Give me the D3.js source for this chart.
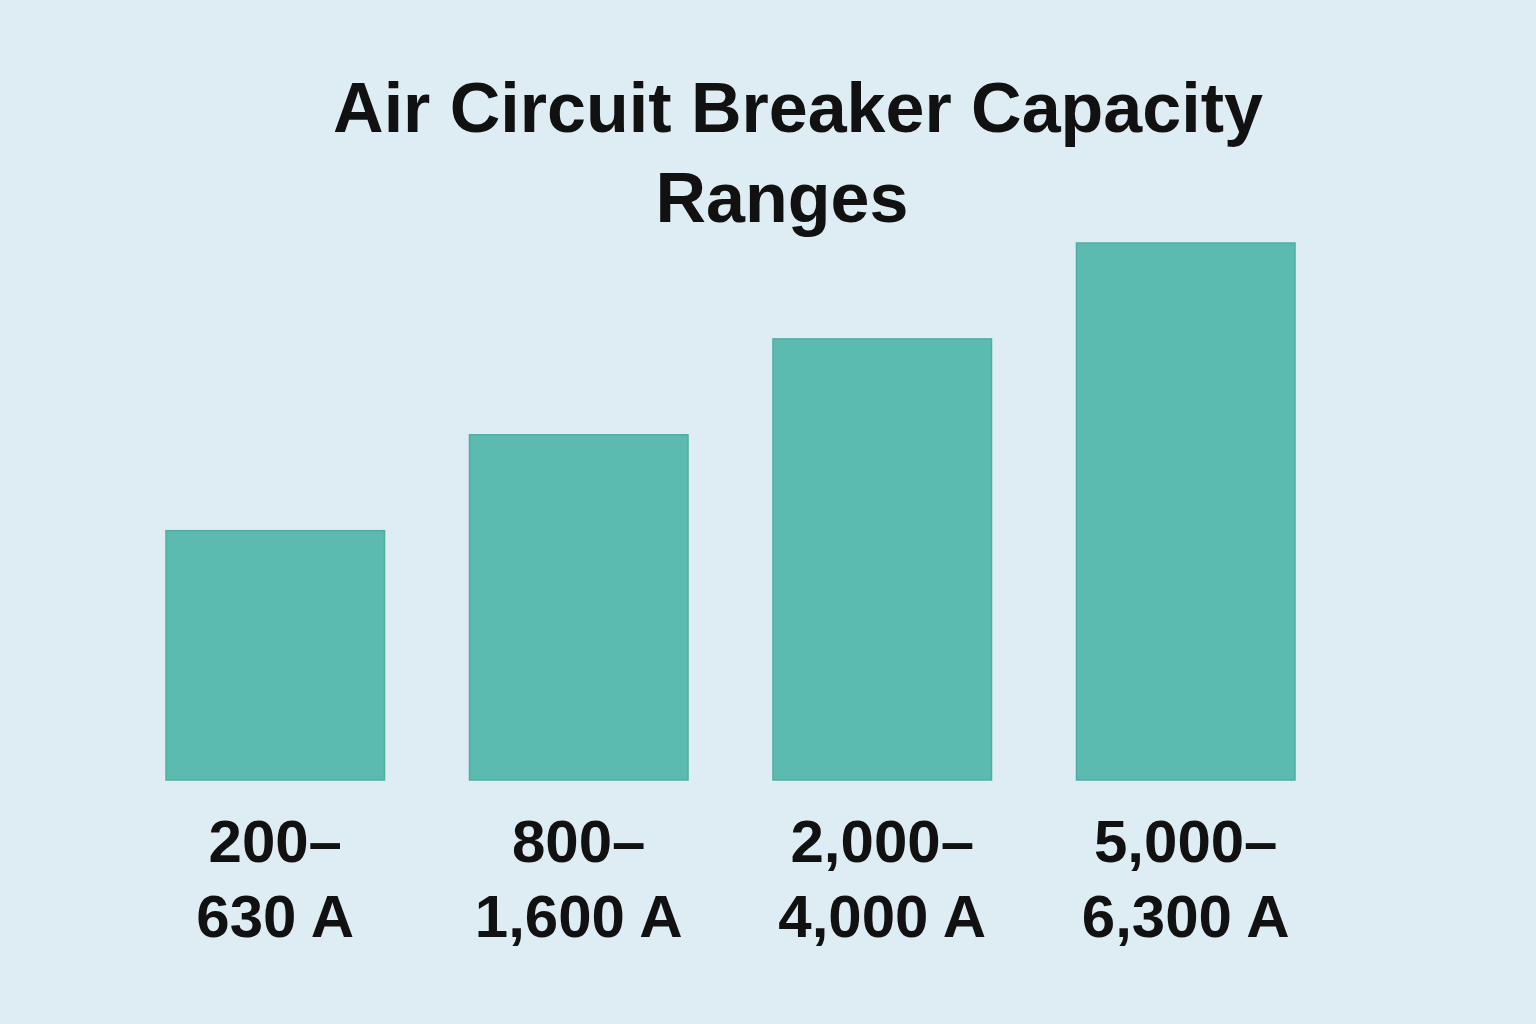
<!DOCTYPE html>
<html>
<head>
<meta charset="utf-8">
<script src="https://cdn.jsdelivr.net/npm/d3@7"></script>
<style>
  body { margin: 0; background: #deecf3; }
  svg { display: block; font-family: "Liberation Sans", "DejaVu Sans", sans-serif; }
</style>
</head>
<body>
<div id="chart"></div>
<script>
// capacity ranges (categories), two label lines each
const categories = ["200–630 A", "800–1,600 A", "2,000–4,000 A", "5,000–6,300 A"];
const labelTop = ["200–", "800–", "2,000–", "5,000–"];
const labelBottom = ["630 A", "1,600 A", "4,000 A", "6,300 A"];
// relative bar heights
const values = [2.6, 3.6, 4.6, 5.6];

const width = 1536;
const height = 1024;
const margin = { top: 243, right: 241, bottom: 244, left: 166 };

const svg = d3.select("#chart")
  .append("svg")
  .attr("width", width)
  .attr("height", height);

svg.append("rect")
  .attr("width", width)
  .attr("height", height)
  .attr("fill", "#deecf3");

const title = svg.append("g")
  .attr("text-anchor", "middle")
  .attr("font-size", 70)
  .attr("font-weight", 700)
  .attr("fill", "#111");

title.append("text").attr("x", 798).attr("y", 132).text("Air Circuit Breaker Capacity");
title.append("text").attr("x", 782).attr("y", 222).text("Ranges");

const x = d3.scaleBand()
  .domain(categories)
  .range([margin.left, width - margin.right])
  .paddingInner(0.28)
  .paddingOuter(0);

const y = d3.scaleLinear()
  .domain([0, d3.max(values)])
  .range([height - margin.bottom, margin.top]);

svg.append("g")
  .selectAll("rect")
  .data(values)
  .join("rect")
  .attr("x", (d, i) => x(categories[i]))
  .attr("y", d => y(d))
  .attr("width", x.bandwidth())
  .attr("height", d => y(0) - y(d))
  .attr("fill", "#5cbbb0")
  .attr("stroke", "#4fae9f")
  .attr("stroke-width", 1.5);

const labels = svg.append("g")
  .attr("font-size", 60)
  .attr("font-weight", 700)
  .attr("fill", "#111")
  .attr("text-anchor", "middle");

labels.selectAll("text.top")
  .data(labelTop)
  .join("text")
  .attr("class", "top")
  .attr("x", (d, i) => x(categories[i]) + x.bandwidth() / 2)
  .attr("y", 862)
  .text(d => d);

labels.selectAll("text.bottom")
  .data(labelBottom)
  .join("text")
  .attr("class", "bottom")
  .attr("x", (d, i) => x(categories[i]) + x.bandwidth() / 2)
  .attr("y", 937)
  .text(d => d);
</script>
</body>
</html>
